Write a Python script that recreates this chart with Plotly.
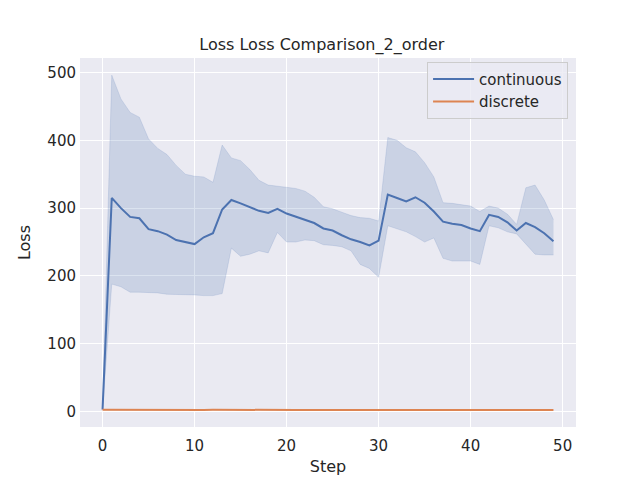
import plotly.graph_objects as go

steps = list(range(50))

cont_mean = [3, 315, 300, 287, 285, 269, 266, 261, 253, 250,
             247, 257, 263, 298, 312, 307, 301, 296, 293, 299,
             292, 287, 283, 278, 270, 267, 260, 254, 250, 245,
             252, 320, 315, 310, 316, 308, 295, 280, 277, 275,
             270, 266, 290, 287, 279, 267, 278, 272, 263, 251]

cont_upper = [4, 496, 461, 441, 434, 402, 388, 379, 363, 350,
              347, 346, 338, 393, 374, 370, 357, 341, 334, 332,
              330, 329, 325, 316, 302, 299, 294, 289, 286, 285,
              281, 404, 400, 389, 383, 367, 346, 308, 307, 305,
              303, 295, 303, 300, 291, 276, 330, 334, 312, 283]

cont_lower = [2, 188, 184, 176, 176, 176, 175, 173, 173, 172,
              172, 171, 171, 174, 241, 229, 232, 237, 234, 264,
              250, 250, 253, 252, 246, 245, 243, 237, 217, 211,
              198, 274, 269, 265, 258, 250, 256, 226, 222, 222,
              222, 217, 274, 271, 265, 262, 247, 232, 231, 231]

disc_mean = [2.6, 2.5, 2.5, 2.6, 2.5, 2.6, 2.6, 2.5, 2.6, 2.7,
             2.5, 2.5, 2.6, 2.7, 2.6, 2.5, 2.5, 2.4, 2.5, 2.5,
             2.4, 2.5, 2.4, 2.5, 2.5, 2.4, 2.4, 2.5, 2.4, 2.3,
             2.4, 2.4, 2.3, 2.4, 2.4, 2.5, 2.4, 2.4, 2.3, 2.3,
             2.4, 2.3, 2.3, 2.3, 2.3, 2.3, 2.4, 2.4, 2.5, 2.5]

blue = "#4c72b0"
orange = "#dd8452"

fig = go.Figure()

# confidence band for continuous
fig.add_trace(go.Scatter(
    x=steps, y=cont_upper, mode="lines",
    line=dict(width=0.8, color="rgba(76,114,176,0.2)"),
    showlegend=False, hoverinfo="skip"
))
fig.add_trace(go.Scatter(
    x=steps, y=cont_lower, mode="lines",
    line=dict(width=0.8, color="rgba(76,114,176,0.2)"),
    fill="tonexty", fillcolor="rgba(76,114,176,0.2)",
    showlegend=False, hoverinfo="skip"
))

fig.add_trace(go.Scatter(
    x=steps, y=cont_mean, mode="lines", name="continuous",
    line=dict(color=blue, width=2)
))
fig.add_trace(go.Scatter(
    x=steps, y=disc_mean, mode="lines", name="discrete",
    line=dict(color=orange, width=2)
))

# the page body has an 8px margin, so the plot area is shifted up/left by 8
fig.update_layout(
    width=640, height=480,
    margin=dict(l=72, r=72, t=50, b=61),
    paper_bgcolor="white",
    plot_bgcolor="#eaeaf2",
    font=dict(family="DejaVu Sans", size=15, color="#262626"),
    title=dict(text="Loss Loss Comparison_2_order", x=(320 - 8) / 640, xanchor="center",
               xref="paper", y=1 - 36 / 480, yanchor="middle",
               font=dict(size=16, color="#262626")),
    xaxis=dict(
        title=dict(text="Step", font=dict(size=16), standoff=6),
        range=[-2.45, 51.45], tickvals=[0, 10, 20, 30, 40, 50],
        showgrid=True, gridcolor="white", gridwidth=1, automargin=False,
        zeroline=False, showline=False, ticks="", ticklen=0,
        ticklabelstandoff=8,
        tickfont=dict(size=15)
    ),
    yaxis=dict(
        title=dict(text="Loss", font=dict(size=16), standoff=12),
        range=[-22.7, 521.3], tickvals=[0, 100, 200, 300, 400, 500],
        showgrid=True, gridcolor="white", gridwidth=1, automargin=False,
        zeroline=False, showline=False, ticks="", ticklen=0,
        ticklabelstandoff=3,
        tickfont=dict(size=15)
    ),
    legend=dict(
        x=0.984, y=0.99, xanchor="right", yanchor="top",
        traceorder="normal", itemwidth=41,
        bgcolor="rgba(234,234,242,0.8)", bordercolor="#cccccc", borderwidth=1,
        font=dict(size=15)
    ),
    showlegend=True
)

fig.write_html("out.html")
